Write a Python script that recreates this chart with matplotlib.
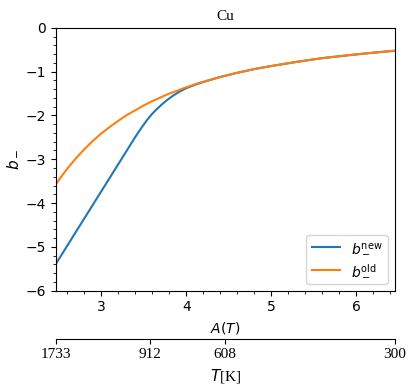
import matplotlib
matplotlib.use('Agg')
import matplotlib.pyplot as plt
from matplotlib.ticker import AutoMinorLocator

# values
A_vals = [2.46, 2.5, 2.6, 2.7, 2.8, 2.9, 3.0, 3.1, 3.2, 3.3, 3.35, 3.4, 3.45, 3.5, 3.55, 3.6,
          3.65, 3.7, 3.75, 3.8, 3.85, 3.9, 3.95, 4.0, 4.1, 4.2, 4.4, 4.6, 4.8, 5.0, 5.3,
          5.6, 5.9, 6.2, 6.46]
b_old = [-3.59, -3.47, -3.21, -2.98, -2.77, -2.58, -2.41, -2.26, -2.12, -1.99, -1.935, -1.88,
         -1.825, -1.77, -1.72, -1.67, -1.63, -1.585, -1.54, -1.50, -1.465, -1.43, -1.39, -1.355,
         -1.29, -1.23, -1.12, -1.025, -0.94, -0.87, -0.775, -0.69, -0.625, -0.565, -0.52]
b_new = [-5.40, -5.28, -4.97, -4.66, -4.35, -4.04, -3.73, -3.42, -3.11, -2.80, -2.645, -2.49,
         -2.345, -2.205, -2.075, -1.96, -1.86, -1.77, -1.685, -1.61, -1.54, -1.48, -1.425, -1.375,
         -1.30, -1.235, -1.12, -1.025, -0.94, -0.87, -0.775, -0.69, -0.625, -0.565, -0.52]

T_labels = ['1733', '912', '608', '300']
T_pos = [2.46, 3.577, 4.459, 6.46]

fig = plt.figure(figsize=(4.16, 3.92), dpi=100)
ax = fig.add_axes([0.1335, 0.2589, 0.816, 0.6697])

ax.plot(A_vals, b_new, label=r'$b_-^{\rm new}$')
ax.plot(A_vals, b_old, label=r'$b_-^{\rm old}$')
ax.set_xlim(2.46, 6.46)
ax.set_ylim(-6, 0)
ax.set_xticks([3, 4, 5, 6])
ax.xaxis.set_minor_locator(AutoMinorLocator(5))
ax.yaxis.set_minor_locator(AutoMinorLocator(5))
ax.set_xlabel(r'$A(T)$')
ax.set_ylabel(r'$b_-$', fontsize=11)
ax.set_title('Cu', family='Liberation Serif', fontsize=11)
ax.legend(loc='lower right')

# temperature axis below
twin = ax.twiny()
twin.set_xlim(ax.get_xlim())
twin.xaxis.set_ticks_position('bottom')
twin.xaxis.set_label_position('bottom')
twin.spines['bottom'].set_position(('axes', -0.183))
for s in ['top', 'left', 'right']:
    twin.spines[s].set_visible(False)
twin.set_xticks(T_pos, T_labels, family='Liberation Serif', fontsize=11)
twin.set_xlabel(r'$T$[K]', family='Liberation Serif', fontsize=11)
twin.patch.set_visible(False)

fig.savefig('out.png', dpi=100)
